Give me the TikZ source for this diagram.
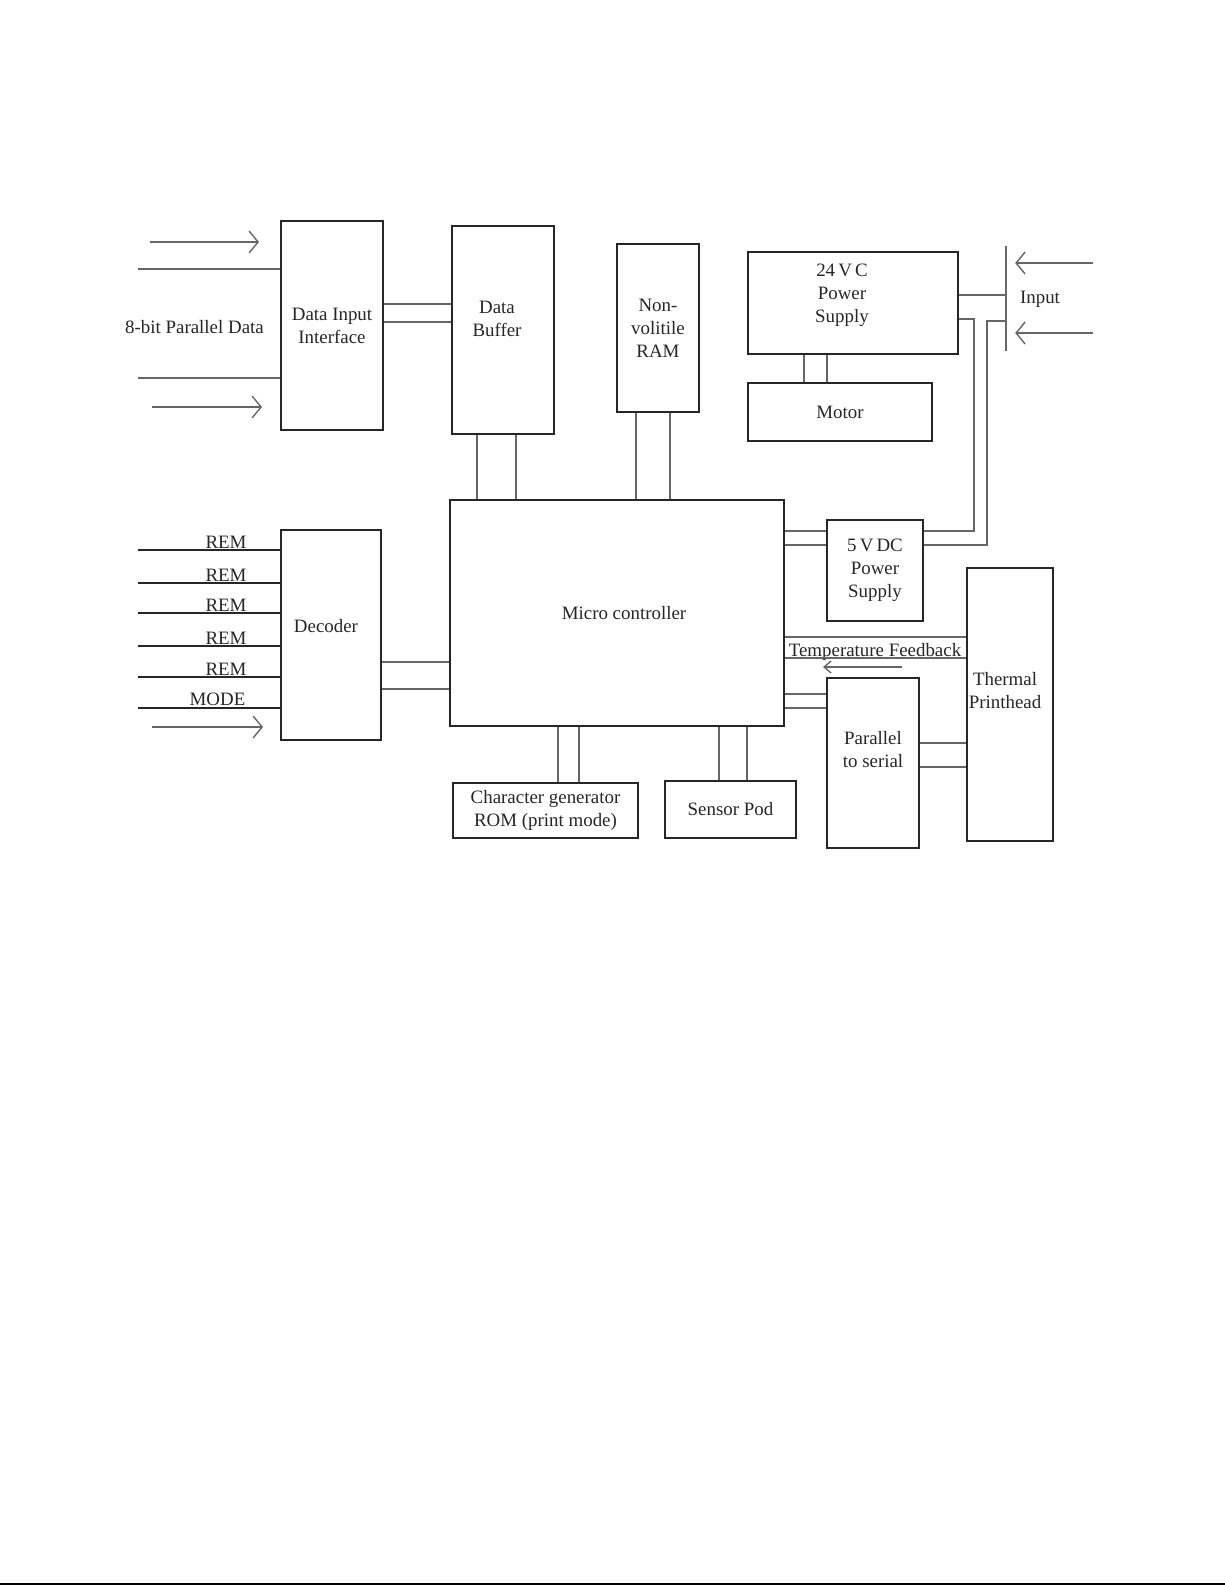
\documentclass[tikz,border=0pt]{standalone}
\usepackage{fontspec}
\setmainfont{Liberation Serif}
\usetikzlibrary{arrows.meta}

\begin{document}
\begin{tikzpicture}[x=1pt, y=-1pt, font=\fontsize{18.9}{23}\selectfont, text=black!85,
    blk/.style={draw=black!85, line width=2pt, inner sep=0pt, align=center},
    wire/.style={draw=black!60, line width=1.4pt},
    sig/.style={draw=black!85, line width=2pt},
    >={Straight Barb[length=9pt,width=22pt]}]
\useasboundingbox (0,0) rectangle (1225,1585);
% blocks (some texts sit off centre, so they are labels)
    \node[blk, minimum width=102pt, minimum height=209pt] (dii) at (332,325.5) {Data Input\\Interface};
    \node[blk, minimum width=102pt, minimum height=208pt,
        label={[xshift=-6pt, yshift=11pt, align=center]center:Data\\Buffer}] (buf) at (503,330) {};
    \node[blk, minimum width=82pt, minimum height=168pt] (ram) at (658,328) {Non-\\volitile\\RAM};
    \node[blk, minimum width=210pt, minimum height=102pt,
        label={[xshift=-11pt, yshift=8pt, align=center]center:24\,V\,C\\Power\\Supply}] (ps24) at (853,303) {};
    \node[blk, minimum width=184pt, minimum height=58pt] (motor) at (840,412) {Motor};
    \node[blk, minimum width=334pt, minimum height=226pt,
        label={[xshift=7pt]center:Micro controller}] (mc) at (617,613) {};
    \node[blk, minimum width=100pt, minimum height=210pt,
        label={[xshift=-5pt, yshift=9pt]center:Decoder}] (dec) at (331,635) {};
    \node[blk, minimum width=96pt, minimum height=101pt] (ps5) at (875,570.5) {5\,V\,DC\\Power\\Supply};
    \node[blk, minimum width=86pt, minimum height=273pt,
        label={[xshift=-5pt, yshift=14pt, align=center]center:Thermal\\Printhead}] (tph) at (1010,704.5) {};
    \node[blk, minimum width=92pt, minimum height=170pt,
        label={[yshift=13pt, align=center]center:Parallel\\to serial}] (p2s) at (873,763) {};
    \node[blk, minimum width=185pt, minimum height=55pt] (rom) at (545.5,810.5) {Character generator\\ROM (print mode)};
    \node[blk, minimum width=131pt, minimum height=57pt] (sensor) at (730.5,809.5) {Sensor Pod};

    % input bar and free ends
    \node[minimum height=105pt, minimum width=0pt, inner sep=0pt] (bar) at (1006,298.5) {};
    \node (inlbl) at (1040,299) {Input};
    \node (pdata) at (194.5,327) {8-bit Parallel Data};
    \node[anchor=base, inner sep=0pt] (tfb) at (875,656) {Temperature Feedback};
    \coordinate (ja) at (974,319);
    \coordinate (jb) at (987,321);
    \coordinate (in1) at (1093,263);
    \coordinate (in2) at (1093,333);
    \coordinate (fbtail) at (902,667);
    \coordinate (fbtip) at (823,667);

    % parallel data in
    \draw[wire,->] ([xshift=-130pt,yshift=83.5pt]dii.west) -- ([xshift=-21pt,yshift=83.5pt]dii.west);
    \draw[wire] ([xshift=-142pt,yshift=56.5pt]dii.west) -- ([yshift=56.5pt]dii.west);
    \draw[wire] ([xshift=-142pt,yshift=-52.5pt]dii.west) -- ([yshift=-52.5pt]dii.west);
    \draw[wire,->] ([xshift=-128pt,yshift=-81.5pt]dii.west) -- ([xshift=-18pt,yshift=-81.5pt]dii.west);

    % data path
    \draw[wire] ([yshift=21.5pt]dii.east) -- ([yshift=26pt]buf.west);
    \draw[wire] ([yshift=3.5pt]dii.east) -- ([yshift=8pt]buf.west);
    \draw[wire] ([xshift=-26pt]buf.south) -- ([xshift=-140pt]mc.north);
    \draw[wire] ([xshift=13pt]buf.south) -- ([xshift=-101pt]mc.north);
    \draw[wire] ([xshift=-22pt]ram.south) -- ([xshift=19pt]mc.north);
    \draw[wire] ([xshift=12pt]ram.south) -- ([xshift=53pt]mc.north);

    % power
    \draw[wire] (bar.north) -- (bar.south);
    \draw[wire,->] (in1) -- ([xshift=9pt,yshift=35.5pt]bar.east);
    \draw[wire,->] (in2) -- ([xshift=9pt,yshift=-34.5pt]bar.east);
    \draw[wire] ([xshift=-49pt]ps24.south) -- ([xshift=-36pt]motor.north);
    \draw[wire] ([xshift=-26pt]ps24.south) -- ([xshift=-13pt]motor.north);
    \draw[wire] ([yshift=8pt]ps24.east) -- ([yshift=3.5pt]bar.west);
    \draw[wire] ([yshift=-16pt]ps24.east) -- (ja) |- ([yshift=39.5pt]ps5.east);
    \draw[wire] ([yshift=-22.5pt]bar.west) -- (jb) |- ([yshift=25.5pt]ps5.east);
    \draw[wire] ([yshift=82pt]mc.east) -- ([yshift=39.5pt]ps5.west);
    \draw[wire] ([yshift=68pt]mc.east) -- ([yshift=25.5pt]ps5.west);

    % printhead side
    \draw[wire] ([yshift=-24pt]mc.east) -- ([yshift=67.5pt]tph.west);
    \draw[wire] ([yshift=-45pt]mc.east) -- ([yshift=46.5pt]tph.west);
    \draw[wire,-{Straight Barb[length=7pt,width=12pt]}] (fbtail) -- (fbtip);
    \draw[wire] ([yshift=-81pt]mc.east) -- ([yshift=69pt]p2s.west);
    \draw[wire] ([yshift=-95pt]mc.east) -- ([yshift=55pt]p2s.west);
    \draw[wire] ([yshift=20pt]p2s.east) -- ([yshift=-38.5pt]tph.west);
    \draw[wire] ([yshift=-4pt]p2s.east) -- ([yshift=-62.5pt]tph.west);

    % decoder
    \draw[sig] ([xshift=-142pt,yshift=85pt]dec.west) -- ([yshift=85pt]dec.west) node[pos=.62, above, inner sep=1pt] {REM};
    \draw[sig] ([xshift=-142pt,yshift=52pt]dec.west) -- ([yshift=52pt]dec.west) node[pos=.62, above, inner sep=1pt] {REM};
    \draw[sig] ([xshift=-142pt,yshift=22pt]dec.west) -- ([yshift=22pt]dec.west) node[pos=.62, above, inner sep=1pt] {REM};
    \draw[sig] ([xshift=-142pt,yshift=-11pt]dec.west) -- ([yshift=-11pt]dec.west) node[pos=.62, above, inner sep=1pt] {REM};
    \draw[sig] ([xshift=-142pt,yshift=-42pt]dec.west) -- ([yshift=-42pt]dec.west) node[pos=.62, above, inner sep=1pt] {REM};
    \draw[sig] ([xshift=-142pt,yshift=-73pt]dec.west) -- ([yshift=-73pt]dec.west) node[pos=.56, above, inner sep=1pt] {MODE};
    \draw[wire,->] ([xshift=-128pt,yshift=-92pt]dec.west) -- ([xshift=-17pt,yshift=-92pt]dec.west);
    \draw[wire] ([yshift=-27pt]dec.east) -- ([yshift=-49pt]mc.west);
    \draw[wire] ([yshift=-54pt]dec.east) -- ([yshift=-76pt]mc.west);

    % bottom blocks
    \draw[wire] ([xshift=-59pt]mc.south) -- ([xshift=12.5pt]rom.north);
    \draw[wire] ([xshift=-38pt]mc.south) -- ([xshift=33.5pt]rom.north);
    \draw[wire] ([xshift=102pt]mc.south) -- ([xshift=-11.5pt]sensor.north);
    \draw[wire] ([xshift=130pt]mc.south) -- ([xshift=16.5pt]sensor.north);

    % page edge
    \draw[line width=2pt] (0,1584) -- (1225,1584);
\end{tikzpicture}
\end{document}
